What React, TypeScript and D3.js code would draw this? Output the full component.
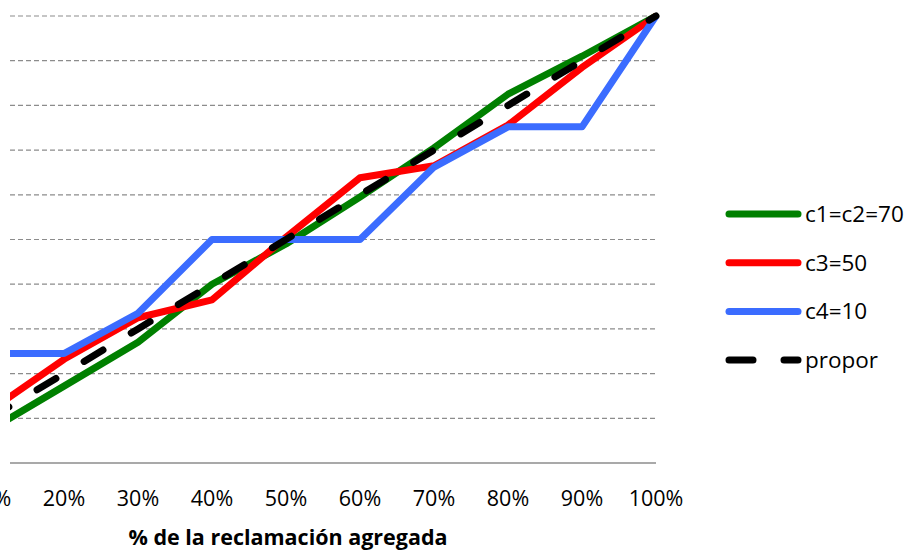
import React, { useEffect, useRef } from 'react';
import * as d3 from 'd3';

const categories = ['10%', '20%', '30%', '40%', '50%', '60%', '70%', '80%', '90%', '100%'];
const greenValues = [0.074, 0.172, 0.27, 0.4, 0.49, 0.595, 0.705, 0.825, 0.91, 1.0];
const redValues = [0.117, 0.232, 0.325, 0.365, 0.505, 0.638, 0.665, 0.756, 0.885, 1.0];
const blueValues = [0.245, 0.245, 0.335, 0.5, 0.5, 0.5, 0.662, 0.752, 0.752, 1.0];
const proporValues = [0.1, 0.2, 0.3, 0.4, 0.5, 0.6, 0.7, 0.8, 0.9, 1.0];
const yTicks = [0.1, 0.2, 0.3, 0.4, 0.5, 0.6, 0.7, 0.8, 0.9, 1.0];

const series = [
  { name: 'c1=c2=70', values: greenValues, color: '#008000', dash: null },
  { name: 'c3=50', values: redValues, color: '#ff0000', dash: null },
  { name: 'c4=10', values: blueValues, color: '#3b6cff', dash: null },
  { name: 'propor', values: proporValues, color: '#000000', dash: '22,33' },
];

const W = 912;
const H = 553;
const FONT = '"Open Sans", Calibri, sans-serif';

export default function App() {
  const svgRef = useRef<SVGSVGElement>(null);

  useEffect(() => {
    if (!svgRef.current) return;
    const svg = d3.select(svgRef.current);
    svg.selectAll('*').remove();

    const plotLeft = 10;
    const plotRight = 656;
    const plotTop = 16;
    const plotBottom = 463;

    // category positions: points sit on the ticks, 10% falls off the left edge
    const x = d3.scalePoint<string>().domain(categories).range([-10, 656]);
    const y = d3.scaleLinear().domain([0, 1]).range([plotBottom, plotTop]);

    svg.append('defs').append('clipPath').attr('id', 'plotClip')
      .append('rect')
      .attr('x', plotLeft).attr('y', 0)
      .attr('width', plotRight - plotLeft + 10).attr('height', H);

    svg.append('g')
      .selectAll('line')
      .data(yTicks)
      .join('line')
      .attr('x1', plotLeft).attr('x2', plotRight)
      .attr('y1', d => y(d)).attr('y2', d => y(d))
      .attr('stroke', '#8c8c8c')
      .attr('stroke-width', 1.2)
      .attr('stroke-dasharray', '5,3');

    svg.append('line')
      .attr('x1', plotLeft).attr('x2', plotRight)
      .attr('y1', plotBottom).attr('y2', plotBottom)
      .attr('stroke', '#8c8c8c')
      .attr('stroke-width', 1.5);

    const line = d3.line<number>()
      .x((_, i) => x(categories[i]) as number)
      .y(d => y(d));

    const lines = svg.append('g').attr('clip-path', 'url(#plotClip)');
    series.forEach(s => {
      lines.append('path')
        .attr('d', line(s.values))
        .attr('fill', 'none')
        .attr('stroke', s.color)
        .attr('stroke-width', 7)
        .attr('stroke-linejoin', 'round')
        .attr('stroke-linecap', s.dash ? 'round' : 'butt')
        .attr('stroke-dasharray', s.dash);
    });

    svg.append('g')
      .selectAll('text')
      .data(categories)
      .join('text')
      .attr('x', d => x(d) as number)
      .attr('y', 506)
      .attr('text-anchor', 'middle')
      .attr('font-family', FONT)
      .attr('font-size', 21.5)
      .attr('fill', '#000')
      .text(d => d);

    svg.append('text')
      .attr('x', 288)
      .attr('y', 545)
      .attr('text-anchor', 'middle')
      .attr('font-family', FONT)
      .attr('font-weight', 'bold')
      .attr('font-size', 21.5)
      .attr('fill', '#000')
      .text('% de la reclamación agregada');

    const legend = svg.append('g');
    series.forEach((s, i) => {
      const ly = 214 + i * 48.7;
      legend.append('line')
        .attr('x1', 729).attr('x2', 798)
        .attr('y1', ly).attr('y2', ly)
        .attr('stroke', s.color)
        .attr('stroke-width', 7)
        .attr('stroke-linecap', 'round')
        .attr('stroke-dasharray', s.dash ? '24,31' : null);
      legend.append('text')
        .attr('x', 805)
        .attr('y', ly + 8)
        .attr('font-family', FONT)
        .attr('font-size', 22.5)
        .attr('fill', '#000')
        .text(s.name);
    });
  }, []);

  return (
    <svg
      ref={svgRef}
      width={W}
      height={H}
      style={{ position: 'absolute', left: 0, top: 0, background: '#fff' }}
    />
  );
}
